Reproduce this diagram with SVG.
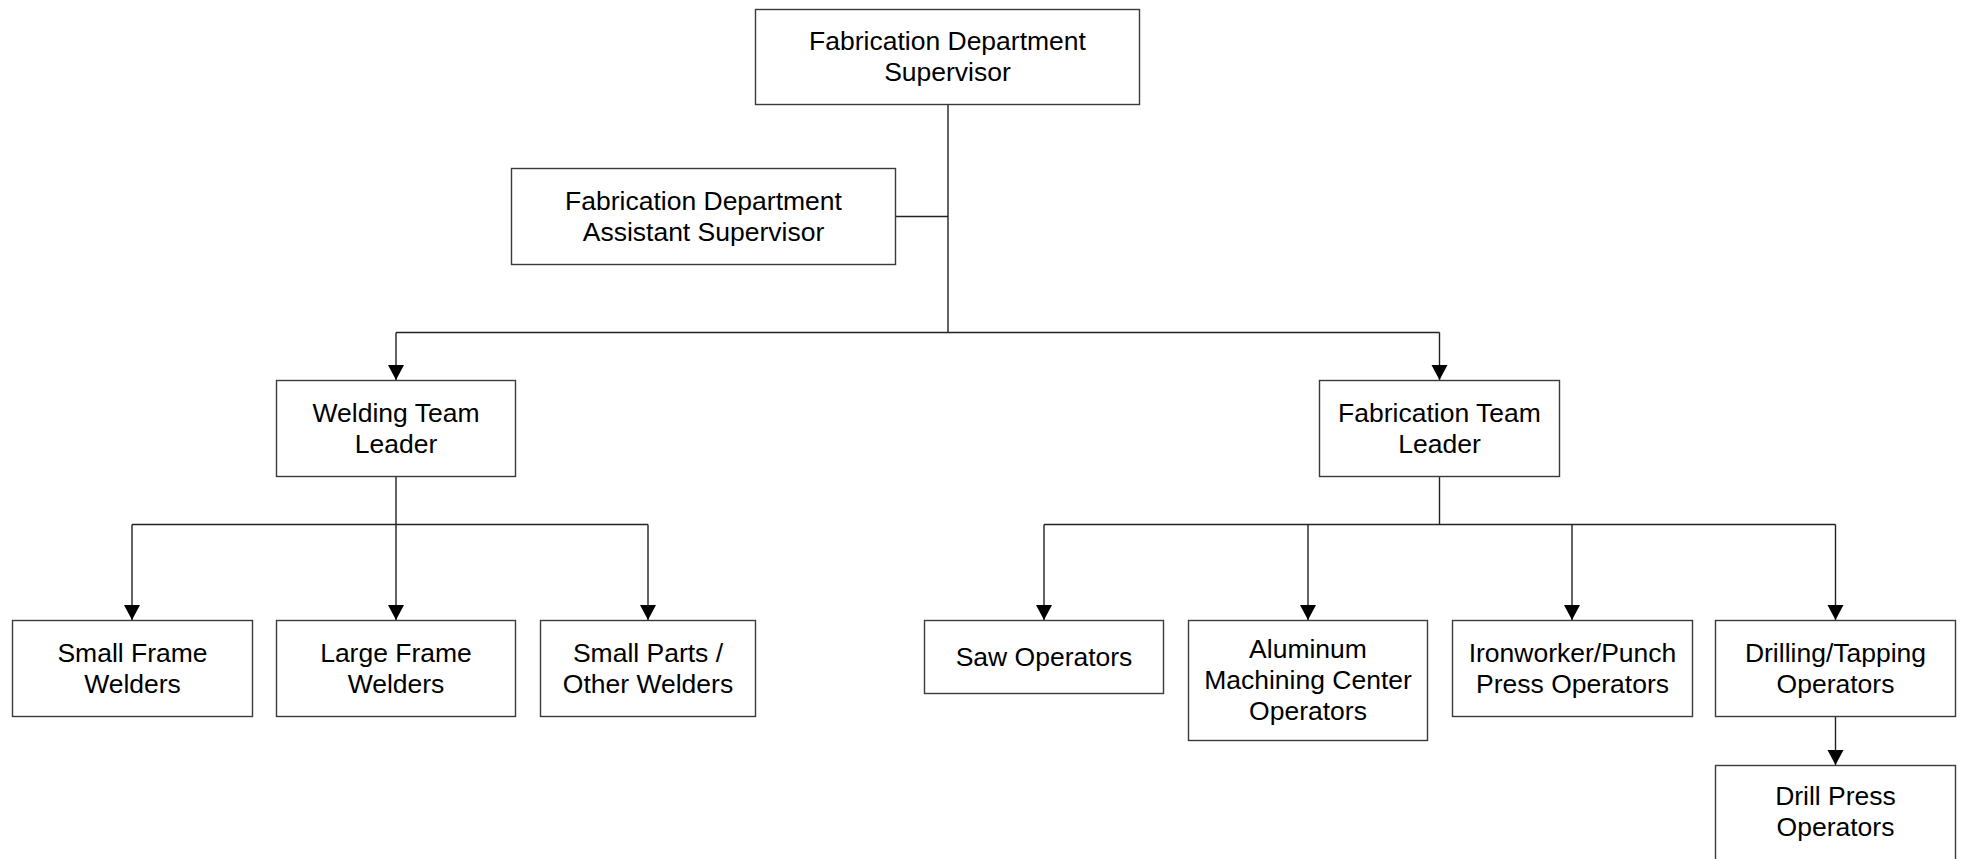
<svg xmlns="http://www.w3.org/2000/svg" width="1961" height="859" viewBox="0 0 1961 859">
<style>
.box{fill:#fff;stroke:#3a3a3a;stroke-width:1.4}
.t{font-family:"Liberation Sans",Arial,sans-serif;font-size:26.5px;fill:#000;text-anchor:middle}
.c{fill:none;stroke:#222;stroke-width:1.4}
</style>
<defs>
<marker id="arr" markerUnits="userSpaceOnUse" markerWidth="16" markerHeight="16" viewBox="0 0 16 16" refX="8" refY="15" orient="0" overflow="visible">
<polygon points="0,0 16,0 8,15" fill="#000"/>
</marker>
</defs>
<rect width="1961" height="859" fill="#fff"/>
<g id="connectors">
<path class="c" d="M948,104.5 V332.5 M895.5,216.5 H948"/>
<path class="c" d="M396,332.5 H1439.5"/>
<path class="c" d="M396,332.5 V380" marker-end="url(#arr)"/>
<path class="c" d="M1439.5,332.5 V380" marker-end="url(#arr)"/>
<path class="c" d="M396,476.5 V524.5 M132,524.5 H648"/>
<path class="c" d="M132,524.5 V620" marker-end="url(#arr)"/>
<path class="c" d="M396,524.5 V620" marker-end="url(#arr)"/>
<path class="c" d="M648,524.5 V620" marker-end="url(#arr)"/>
<path class="c" d="M1439.5,476.5 V524.5 M1044,524.5 H1835.5"/>
<path class="c" d="M1044,524.5 V620" marker-end="url(#arr)"/>
<path class="c" d="M1308,524.5 V620" marker-end="url(#arr)"/>
<path class="c" d="M1572,524.5 V620" marker-end="url(#arr)"/>
<path class="c" d="M1835.5,524.5 V620" marker-end="url(#arr)"/>
<path class="c" d="M1835.5,716.5 V765" marker-end="url(#arr)"/>
</g>
<g id="supervisor"><rect class="box" x="755.5" y="9.5" width="384" height="95"/>
<text class="t" x="947.5" y="49.5">Fabrication Department</text><text class="t" x="947.5" y="80.5">Supervisor</text></g>
<g id="assistant"><rect class="box" x="511.5" y="168.5" width="384" height="96"/>
<text class="t" x="703.5" y="209.5">Fabrication Department</text><text class="t" x="703.5" y="240.5">Assistant Supervisor</text></g>
<g id="welding-leader"><rect class="box" x="276.5" y="380.5" width="239" height="96"/>
<text class="t" x="396" y="421.5">Welding Team</text><text class="t" x="396" y="452.5">Leader</text></g>
<g id="fab-leader"><rect class="box" x="1319.5" y="380.5" width="240" height="96"/>
<text class="t" x="1439.5" y="421.5">Fabrication Team</text><text class="t" x="1439.5" y="452.5">Leader</text></g>
<g id="small-frame"><rect class="box" x="12.5" y="620.5" width="240" height="96"/>
<text class="t" x="132.5" y="661.5">Small Frame</text><text class="t" x="132.5" y="692.5">Welders</text></g>
<g id="large-frame"><rect class="box" x="276.5" y="620.5" width="239" height="96"/>
<text class="t" x="396" y="661.5">Large Frame</text><text class="t" x="396" y="692.5">Welders</text></g>
<g id="small-parts"><rect class="box" x="540.5" y="620.5" width="215" height="96"/>
<text class="t" x="648" y="661.5">Small Parts /</text><text class="t" x="648" y="692.5">Other Welders</text></g>
<g id="saw"><rect class="box" x="924.5" y="620.5" width="239" height="73"/>
<text class="t" x="1044" y="665.5">Saw Operators</text></g>
<g id="aluminum"><rect class="box" x="1188.5" y="620.5" width="239" height="120"/>
<text class="t" x="1308" y="657.5">Aluminum</text><text class="t" x="1308" y="688.5">Machining Center</text><text class="t" x="1308" y="719.5">Operators</text></g>
<g id="ironworker"><rect class="box" x="1452.5" y="620.5" width="240" height="96"/>
<text class="t" x="1572.5" y="661.5">Ironworker/Punch</text><text class="t" x="1572.5" y="692.5">Press Operators</text></g>
<g id="drilling"><rect class="box" x="1715.5" y="620.5" width="240" height="96"/>
<text class="t" x="1835.5" y="661.5">Drilling/Tapping</text><text class="t" x="1835.5" y="692.5">Operators</text></g>
<g id="drill-press"><rect class="box" x="1715.5" y="765.5" width="240" height="110"/>
<text class="t" x="1835.5" y="804.5">Drill Press</text><text class="t" x="1835.5" y="835.5">Operators</text></g>
</svg>
